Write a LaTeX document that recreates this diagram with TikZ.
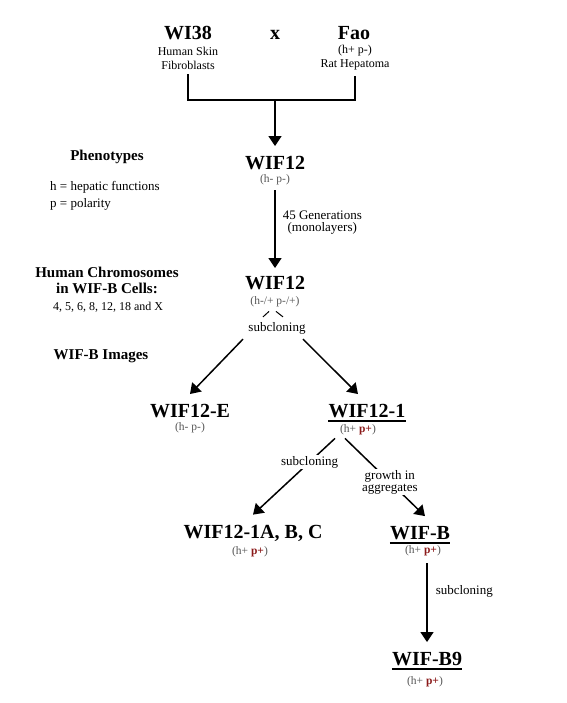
\documentclass[tikz,border=0pt]{standalone}
\usepackage{fontspec}
\setmainfont{Liberation Serif}
\usetikzlibrary{arrows.meta,positioning}
\definecolor{wfred}{HTML}{8B1A1A}
\definecolor{wfgrey}{HTML}{555555}
\newcommand{\pplus}{\textbf{\textcolor{wfred}{p+}}}

\begin{document}
\begin{tikzpicture}[x=1pt,y=1pt,>={Triangle[length=10pt,width=13pt]},
  line/.style={line width=1.5pt},
  cell/.style={inner sep=0pt,font=\bfseries\fontsize{20}{22}\selectfont},
  pheno/.style={inner sep=0pt,text=wfgrey,font=\fontsize{11.5}{13}\selectfont},
  note/.style={inner sep=0pt,align=center,font=\fontsize{12}{14}\selectfont},
  lbl/.style={inner sep=1pt,align=center,font=\fontsize{13}{12}\selectfont},
  head/.style={inner sep=0pt,align=center,font=\bfseries\fontsize{15}{16}\selectfont}]
\useasboundingbox (0,0) rectangle (566,-703);
\node[cell](wi) at (188,-33){WI38};
\node[cell](cross) at (275,-35){x};
\node[cell](fao) at (354,-33){Fao};
\node[note](wisub) at (188,-58){Human Skin\\Fibroblasts};
\node[note](faosub) at (355,-58){(h+ p-)\\Rat Hepatoma};
\coordinate (join) at (275,-100);
\draw[line] ([yshift=-5pt]wisub.south) |- (join) -| ([yshift=-5pt]faosub.south);
\node[cell](w1) at (275,-163){WIF12};
\node[pheno](w1s) at (275,-180){(h- p-)};
\draw[line,->] (join) -- ([yshift=10pt]w1.north);
\node[head](phen) at (107,-157){Phenotypes};
\node[note,align=left,anchor=north west,font=\fontsize{13}{17}\selectfont](phdef) at (50,-181){h = hepatic functions\\p = polarity};
\node[cell](w2) at (275,-283){WIF12};
\node[pheno](w2s) at (275,-302){(h-/+ p-/+)};
\draw[line,->] ([yshift=-5pt]w1s.south) -- ([yshift=8pt]w2.north) node[lbl,pos=.42,right=6pt]{45 Generations\\(monolayers)};
\node[head](chrom) at (107,-280){Human Chromosomes\\in WIF-B Cells:};
\node[note](chromlist) at (108,-307){4, 5, 6, 8, 12, 18 and X};
\node[lbl](sc1) at (277,-328){subcloning};
\draw[line width=1pt] ([xshift=-14pt,yshift=4pt]sc1.north) -- ([xshift=-6pt,yshift=-4pt]w2s.south);
\draw[line width=1pt] ([xshift=6pt,yshift=4pt]sc1.north) -- ([xshift=1pt,yshift=-4pt]w2s.south);
\node[head](img) at (101,-356){WIF-B Images};
\node[cell](e) at (190,-411){WIF12-E};
\node[pheno](es) at (190,-428){(h- p-)};
\node[cell](one) at (367,-411){WIF12-1};
\node[pheno](ones) at (358,-430){(h+ \pplus)};
\draw[line] ([yshift=-3pt]one.south west) -- ([yshift=-3pt]one.south east);
\draw[line,->] ([xshift=-34pt,yshift=-4pt]sc1.south) -- ([yshift=10pt]e.north);
\draw[line,->] ([xshift=26pt,yshift=-4pt]sc1.south) -- ([xshift=-9pt,yshift=10pt]one.north);
\node[cell](abc) at (253,-533){WIF12-1A, B, C};
\node[pheno](abcs) at (250,-552){(h+ \pplus)};
\node[cell](wb) at (420,-533){WIF-B};
\node[pheno](wbs) at (423,-551){(h+ \pplus)};
\draw[line] ([yshift=-3pt]wb.south west) -- ([yshift=-3pt]wb.south east);
\draw[line,->] ([xshift=-23pt,yshift=-3pt]ones.south) -- ([yshift=10pt]abc.north) node[lbl,fill=white,pos=.31]{subcloning};
\draw[line,->] ([xshift=-13pt,yshift=-3pt]ones.south) -- ([xshift=5pt,yshift=10pt]wb.north) node[lbl,fill=white,pos=.56]{growth in\\aggregates};
\node[cell](b9) at (427,-659){WIF-B9};
\node[pheno](b9s) at (425,-682){(h+ \pplus)};
\draw[line] ([yshift=-3pt]b9.south west) -- ([yshift=-3pt]b9.south east);
\draw[line,->] ([xshift=4pt,yshift=-7pt]wbs.south) -- ([yshift=10pt]b9.north) node[lbl,pos=.35,right=7pt]{subcloning};
\end{tikzpicture}
\end{document}
